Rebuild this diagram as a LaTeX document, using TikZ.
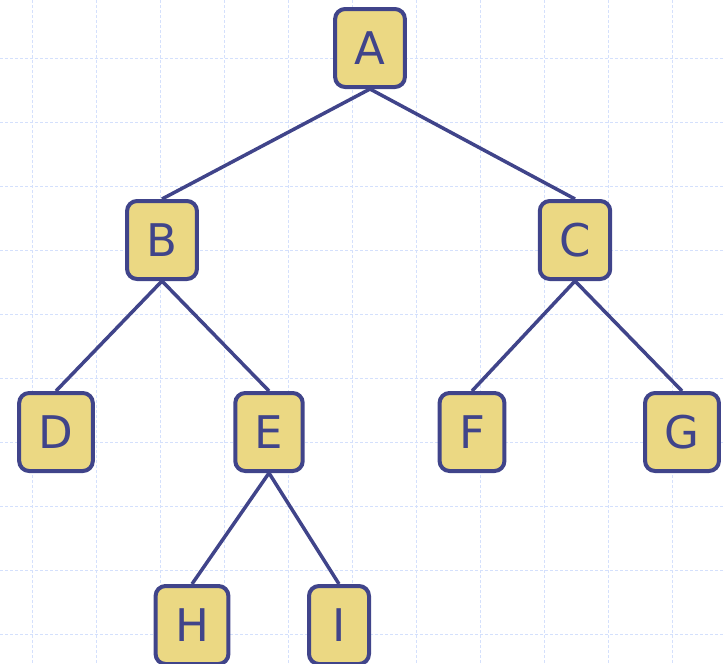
\documentclass[tikz,border=0pt]{standalone}
\usepackage{fontspec}
\setsansfont{DejaVu Sans}
\definecolor{treeblue}{RGB}{64,68,138}
\definecolor{treefill}{RGB}{235,216,131}
\definecolor{gridblue}{RGB}{212,224,252}
\tikzset{tnode/.style={draw=treeblue,fill=treefill,line width=4pt,rounded corners=10pt,inner xsep=19.5pt,inner ysep=0pt,minimum height=78pt,minimum width=60pt,text=treeblue,font=\sffamily\fontsize{45}{50}\selectfont},
  tedge/.style={treeblue,line width=3.5pt}}
\begin{document}
\begin{tikzpicture}[x=1pt,y=-1pt]
    \useasboundingbox(0,0)rectangle(723,664);
    \foreach \x in {32,96,...,672}\draw[gridblue,line width=1pt,dash pattern=on 3pt off 2pt](\x,0)--(\x,664);
    \foreach \y in {58,122,...,634}\draw[gridblue,line width=1pt,dash pattern=on 3pt off 2pt](0,\y)--(723,\y);
    \node[tnode](A)at(370,48){A};
    \node[tnode](B)at(162,240){B};\node[tnode](C)at(575,240){C};
    \node[tnode](D)at(56,432){D};\node[tnode](E)at(269,432){E};
    \node[tnode](F)at(472,432){F};\node[tnode](G)at(682,432){G};
    \node[tnode](H)at(192,625){H};\node[tnode](I)at(339,625){I};
    \foreach \p/\c in {A/B,A/C,B/D,B/E,C/F,C/G,E/H,E/I}\draw[tedge](\p.south)--(\c.north);
  \end{tikzpicture}
\end{document}
